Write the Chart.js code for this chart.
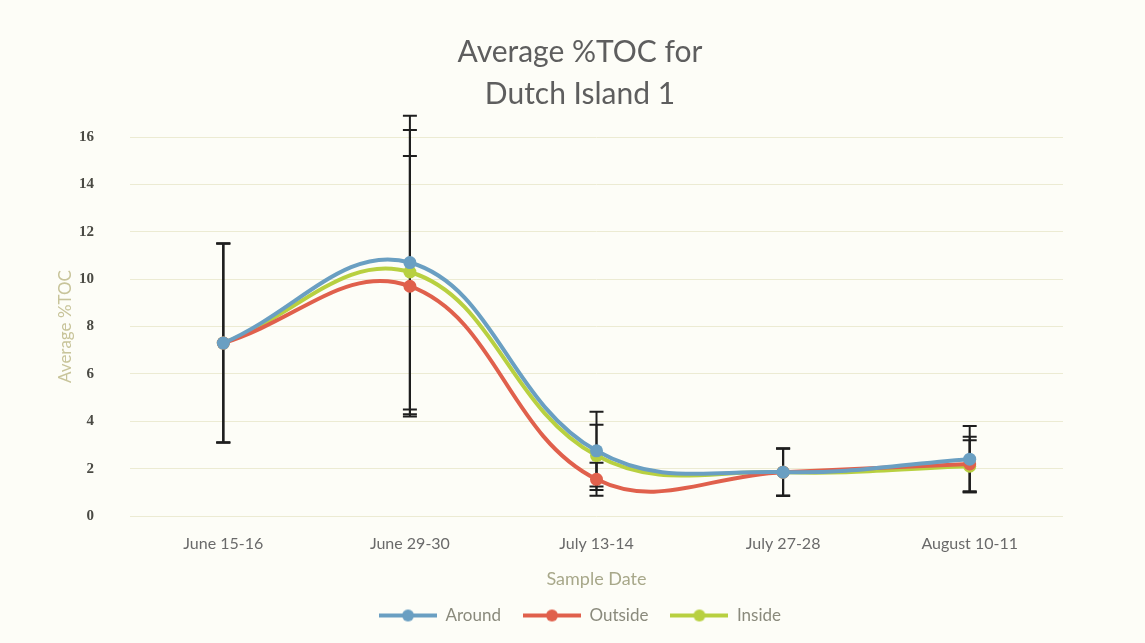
<!DOCTYPE html>
<html>
<head>
<meta charset="utf-8">
<script src="https://cdn.jsdelivr.net/npm/chart.js@4/dist/chart.umd.min.js"></script>
<style>
  html, body { margin: 0; padding: 0; background: #fdfdf7; }
  #wrap { width: 1145px; height: 643px; }
</style>
</head>
<body>
<div id="wrap"><canvas id="toc-chart" width="1145" height="643"></canvas></div>
<script>
var categories = ["June 15-16", "June 29-30", "July 13-14", "July 27-28", "August 10-11"];
var around = [7.3, 10.7, 2.75, 1.85, 2.4];
var outside = [7.3, 9.7, 1.55, 1.85, 2.2];
var inside = [7.3, 10.3, 2.55, 1.85, 2.1];
var aroundErr = [4.2, 6.2, 1.65, 1.0, 1.4];
var outsideErr = [4.2, 5.5, 0.7, 1.0, 1.15];
var insideErr = [4.2, 6.0, 1.3, 1.0, 1.1];

(function () {
  "use strict";

  var BLUE = "#6a9fc2";
  var RED = "#e0604c";
  var GREEN = "#b8d040";

  function legendIcon(color) {
    var c = document.createElement("canvas");
    c.width = 58;
    c.height = 14;
    var ctx = c.getContext("2d");
    ctx.strokeStyle = color;
    ctx.lineWidth = 4;
    ctx.beginPath();
    ctx.moveTo(0, 7);
    ctx.lineTo(58, 7);
    ctx.stroke();
    ctx.fillStyle = color;
    ctx.beginPath();
    ctx.arc(29, 7, 6, 0, Math.PI * 2);
    ctx.fill();
    return c;
  }

  // error bars drawn under the lines, from each dataset's errors array
  var errorBars = {
    id: "errorBars",
    beforeDatasetsDraw: function (chart) {
      var ctx = chart.ctx;
      var y = chart.scales.y;
      ctx.save();
      ctx.strokeStyle = "#1e1e1e";
      ctx.lineWidth = 2;
      chart.data.datasets.forEach(function (ds, i) {
        var meta = chart.getDatasetMeta(i);
        meta.data.forEach(function (pt, j) {
          var v = ds.data[j];
          var e = ds.errors[j];
          var top = y.getPixelForValue(v + e);
          var bot = y.getPixelForValue(v - e);
          ctx.beginPath();
          ctx.moveTo(pt.x, top);
          ctx.lineTo(pt.x, bot);
          ctx.moveTo(pt.x - 7, top);
          ctx.lineTo(pt.x + 7, top);
          ctx.moveTo(pt.x - 7, bot);
          ctx.lineTo(pt.x + 7, bot);
          ctx.stroke();
        });
      });
      ctx.restore();
    },
  };

  function series(label, data, errs, color) {
    return {
      label: label,
      data: data,
      errors: errs,
      borderColor: color,
      backgroundColor: color,
      borderWidth: 4,
      pointRadius: 6.5,
      pointBorderWidth: 0,
      pointStyle: "circle",
      tension: 0.4,
      clip: false,
    };
  }

  new Chart(document.getElementById("toc-chart"), {
    type: "line",
    data: {
      labels: categories,
      datasets: [
        series("Around", around, aroundErr, BLUE),
        series("Outside", outside, outsideErr, RED),
        series("Inside", inside, insideErr, GREEN),
      ],
    },
    plugins: [errorBars],
    options: {
      responsive: false,
      animation: false,
      layout: { padding: { left: 15, right: 0, top: 0, bottom: 9 } },
      plugins: {
        tooltip: { enabled: false },
        title: {
          display: true,
          text: ["Average %TOC for", "Dutch Island 1"],
          color: "#5e5e5e",
          font: { family: "Lato", size: 30, weight: "normal", lineHeight: 1.4 },
          padding: { top: 31, bottom: 22 },
        },
        legend: {
          position: "bottom",
          labels: {
            color: "#8a8a7c",
            font: { family: "Lato", size: 17 },
            usePointStyle: true,
            pointStyleWidth: 58,
            boxWidth: 58,
            padding: 22,
            generateLabels: function (chart) {
              return chart.data.datasets.map(function (ds, i) {
                return {
                  text: ds.label,
                  pointStyle: legendIcon(ds.borderColor),
                  fontColor: "#8a8a7c",
                  datasetIndex: i,
                  lineWidth: 0,
                };
              });
            },
          },
        },
      },
      scales: {
        x: {
          offset: true,
          grid: { display: false },
          border: { display: false },
          ticks: { color: "#6a6a6a", font: { family: "Lato", size: 16 }, padding: 10 },
          title: {
            display: true,
            text: "Sample Date",
            color: "#a8a88a",
            font: { family: "Lato", size: 18 },
            padding: { top: 4, bottom: -5 },
          },
          afterFit: function (s) { s.height = 69; },
        },
        y: {
          min: 0,
          max: 16,
          ticks: {
            stepSize: 2,
            color: "#4a4a44",
            font: { family: "Liberation Serif", size: 15, weight: "bold" },
            padding: 36,
          },
          grid: { color: "#ecebd3", drawTicks: false },
          border: { display: false },
          title: {
            display: true,
            text: "Average %TOC",
            color: "#c8c49a",
            font: { family: "Lato", size: 17 },
            padding: { top: 40 },
          },
          afterFit: function (s) { s.width = 115; },
        },
        // empty right-hand axis, only reserves the blank margin
        y2: {
          position: "right",
          min: 0,
          max: 16,
          grid: { drawOnChartArea: false, drawTicks: false },
          border: { display: false },
          ticks: { display: false },
          afterFit: function (s) { s.width = 82; },
        },
      },
    },
  });
})();
</script>
</body>
</html>
